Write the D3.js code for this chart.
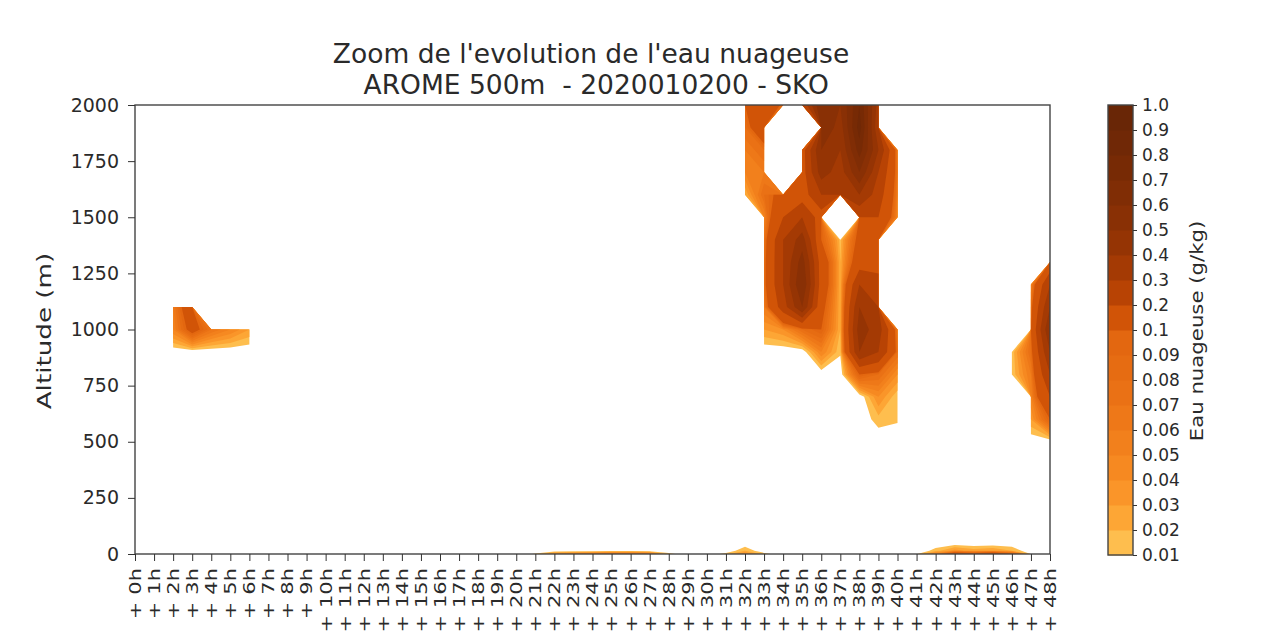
<!DOCTYPE html>
<html>
<head>
<meta charset="utf-8">
<script src="https://cdn.jsdelivr.net/npm/d3@7"></script>
<style>
body { margin: 0; background: #fff; }
text { font-family: "DejaVu Sans", sans-serif; fill: #2a2a2a; }
</style>
</head>
<body>
<div id="chart"></div>
<script>
const _ = null; // no data (masked point)

// forecast steps +0h ... +48h
const hours = d3.range(0, 49);
// model levels used for the grid (m)
const altitudes = [0, 15, 50, 100, 200, 300, 400, 500, 600, 700, 800, 900, 1000,
                   1100, 1200, 1300, 1400, 1500, 1600, 1700, 1800, 1900, 2000];
const altTicks = [0, 250, 500, 750, 1000, 1250, 1500, 1750, 2000];
const levels = [0.01, 0.02, 0.03, 0.04, 0.05, 0.06, 0.07, 0.08, 0.09,
                0.1, 0.2, 0.3, 0.4, 0.5, 0.6, 0.7, 0.8, 0.9, 1.0];
const levelLabels = ['0.01', '0.02', '0.03', '0.04', '0.05', '0.06', '0.07', '0.08', '0.09',
                     '0.1', '0.2', '0.3', '0.4', '0.5', '0.6', '0.7', '0.8', '0.9', '1.0'];

// cloud water (g/kg), one row per altitude (bottom -> top), one column per hour
const cloudWater = [
  // 0 m
  [0,0,0,0,0,0,0,0,0,0, 0,0,0,0,0,0,0,0,0,0, 0,.012,.04,.05,.06,.07,.07,.06,.015,0, 0,.015,.04,.015,0,0,0,0,0,0, 0,.008,.05,.15,.12,.15,.1,.008,0],
  // 15 m
  [0,0,0,0,0,0,0,0,0,0, 0,0,0,0,0,0,0,0,0,0, 0,0,0,0,0,0,0,0,0,0, 0,0,.02,0,0,0,0,0,0,0, 0,0,.015,.035,.025,.03,.02,0,0],
  // 50 m
  [0,0,0,0,0,0,0,0,0,0, 0,0,0,0,0,0,0,0,0,0, 0,0,0,0,0,0,0,0,0,0, 0,0,0,0,0,0,0,0,0,0, 0,0,0,0,0,0,0,0,0],
  // 100 m
  [_,_,_,_,_,_,_,_,_,_, _,_,_,_,_,_,_,_,_,_, _,_,_,_,_,_,_,_,_,_, _,_,_,_,_,_,_,_,_,_, _,_,_,_,_,_,_,_,_],
  // 200 m
  [_,_,_,_,_,_,_,_,_,_, _,_,_,_,_,_,_,_,_,_, _,_,_,_,_,_,_,_,_,_, _,_,_,_,_,_,_,_,_,_, _,_,_,_,_,_,_,_,_],
  // 300 m
  [_,_,_,_,_,_,_,_,_,_, _,_,_,_,_,_,_,_,_,_, _,_,_,_,_,_,_,_,_,_, _,_,_,_,_,_,_,_,_,_, _,_,_,_,_,_,_,_,_],
  // 400 m
  [_,_,_,_,_,_,_,_,_,_, _,_,_,_,_,_,_,_,_,_, _,_,_,_,_,_,_,_,_,_, _,_,_,_,_,_,_,_,_,_, _,_,_,_,_,_,_,_,_],
  // 500 m
  [_,_,_,_,_,_,_,_,_,_, _,_,_,_,_,_,_,_,_,_, _,_,_,_,_,_,_,_,_,_, _,_,_,_,_,_,_,_,_,0, 0,_,_,_,_,_,_,0,0],
  // 600 m
  [_,_,_,_,_,_,_,_,_,_, _,_,_,_,_,_,_,_,_,_, _,_,_,_,_,_,_,_,_,_, _,_,_,_,_,_,_,_,0,.016, .012,_,_,_,_,_,_,.03,.1],
  // 700 m
  [_,_,_,_,_,_,_,_,_,_, _,_,_,_,_,_,_,_,_,_, _,_,_,_,_,_,_,_,_,_, _,_,_,_,_,_,_,_,0,.04, .012,_,_,_,_,_,_,.05,.2],
  // 800 m
  [_,_,_,_,_,_,_,_,_,_, _,_,_,_,_,_,_,_,_,_, _,_,_,_,_,_,_,_,_,_, _,_,_,_,_,_,0,0,.1,.08, .04,_,_,_,_,_,.011,.06,.3],
  // 900 m
  [_,_,0,0,0,0,0,_,_,_, _,_,_,_,_,_,_,_,_,_, _,_,_,_,_,_,_,_,_,_, _,_,_,0,0,0,.05,.012,.4,.3, .08,_,_,_,_,_,.012,.08,.4],
  // 1000 m
  [_,_,.05,.12,.07,.05,.03,_,_,_, _,_,_,_,_,_,_,_,_,_, _,_,_,_,_,_,_,_,_,_, _,_,_,.03,.04,.08,.1,.02,.45,.35, .06,_,_,_,_,_,_,.1,.5],
  // 1100 m
  [_,_,.06,.15,_,_,_,_,_,_, _,_,_,_,_,_,_,_,_,_, _,_,_,_,_,_,_,_,_,_, _,_,_,.06,.25,.5,.12,.02,.4,.3, _,_,_,_,_,_,_,.08,.4],
  // 1200 m
  [_,_,_,_,_,_,_,_,_,_, _,_,_,_,_,_,_,_,_,_, _,_,_,_,_,_,_,_,_,_, _,_,_,.08,.3,.6,.15,.02,.3,.25, _,_,_,_,_,_,_,.05,.3],
  // 1300 m
  [_,_,_,_,_,_,_,_,_,_, _,_,_,_,_,_,_,_,_,_, _,_,_,_,_,_,_,_,_,_, _,_,_,.08,.3,.55,.15,.02,.15,.15, _,_,_,_,_,_,_,_,.12],
  // 1400 m
  [_,_,_,_,_,_,_,_,_,_, _,_,_,_,_,_,_,_,_,_, _,_,_,_,_,_,_,_,_,_, _,_,_,.07,.3,.45,.1,.015,.12,.12, _,_,_,_,_,_,_,_,_],
  // 1500 m
  [_,_,_,_,_,_,_,_,_,_, _,_,_,_,_,_,_,_,_,_, _,_,_,_,_,_,_,_,_,_, _,_,_,.05,.2,.3,.15,_,.2,.2, .05,_,_,_,_,_,_,_,_],
  // 1600 m
  [_,_,_,_,_,_,_,_,_,_, _,_,_,_,_,_,_,_,_,_, _,_,_,_,_,_,_,_,_,_, _,_,.02,.08,.12,.15,.3,.3,.4,.25, .06,_,_,_,_,_,_,_,_],
  // 1700 m
  [_,_,_,_,_,_,_,_,_,_, _,_,_,_,_,_,_,_,_,_, _,_,_,_,_,_,_,_,_,_, _,_,.05,.06,_,.15,.45,.35,.6,.3, .07,_,_,_,_,_,_,_,_],
  // 1800 m
  [_,_,_,_,_,_,_,_,_,_, _,_,_,_,_,_,_,_,_,_, _,_,_,_,_,_,_,_,_,_, _,_,.06,.08,_,.15,.5,.4,.75,.4, .06,_,_,_,_,_,_,_,_],
  // 1900 m
  [_,_,_,_,_,_,_,_,_,_, _,_,_,_,_,_,_,_,_,_, _,_,_,_,_,_,_,_,_,_, _,_,.08,.15,_,_,.6,.45,.85,.3, _,_,_,_,_,_,_,_,_],
  // 2000 m
  [_,_,_,_,_,_,_,_,_,_, _,_,_,_,_,_,_,_,_,_, _,_,_,_,_,_,_,_,_,_, _,_,.1,.2,.08,.2,.6,.5,.8,.35, _,_,_,_,_,_,_,_,_]
];

const width = 1274, height = 643;
const plot = {left: 135, right: 1050, top: 105, bottom: 554};
const cbar = {left: 1108, right: 1133, top: 105, bottom: 555};

var svg = d3.select('#chart')
  .append('svg')
  .attr('width', width)
  .attr('height', height);

var x = d3.scaleLinear().domain([0, 48]).range([plot.left, plot.right]);
var y = d3.scaleLinear().domain([0, 2000]).range([plot.bottom, plot.top]);
// grid row index -> altitude
var rowToAlt = d3.scaleLinear().domain(d3.range(altitudes.length)).range(altitudes);

// colour of each band, YlOrBr read on a log scale of the band middle
function bandColor(i) {
  var mid = (levels[i] + levels[i + 1]) / 2;
  var t = 0.33 + 0.67 * (Math.log10(mid) + 2) / 2;
  return d3.interpolateYlOrBr(t);
}

// filled contours
var contours = d3.contours()
  .size([hours.length, altitudes.length])
  .thresholds(levels)(cloudWater.flat());

// d3.contours puts grid value i at i + 0.5
var path = d3.geoPath(d3.geoTransform({
  point: function(px, py) { this.stream.point(x(px - 0.5), y(rowToAlt(py - 0.5))); }
}));

svg.append('clipPath').attr('id', 'clip')
  .append('rect')
  .attr('x', plot.left).attr('y', plot.top)
  .attr('width', plot.right - plot.left).attr('height', plot.bottom - plot.top);

svg.append('g')
  .attr('clip-path', 'url(#clip)')
  .selectAll('path')
  .data(contours.slice(0, levels.length - 1))
  .enter()
  .append('path')
  .attr('d', path)
  .attr('fill', (d, i) => bandColor(i));

// frame
svg.append('rect')
  .attr('x', plot.left).attr('y', plot.top)
  .attr('width', plot.right - plot.left).attr('height', plot.bottom - plot.top)
  .attr('fill', 'none').attr('stroke', '#444').attr('stroke-width', 1.4);

// y axis
var yAxis = svg.append('g')
  .attr('transform', 'translate(' + plot.left + ',0)')
  .attr('color', '#333')
  .call(d3.axisLeft(y).tickValues(altTicks).tickSize(7).tickPadding(9).tickFormat(d3.format('d')));
yAxis.select('.domain').remove();
yAxis.selectAll('text').attr('font-size', 19);

// x axis, labels "+Nh" rotated
var xAxis = svg.append('g')
  .attr('transform', 'translate(0,' + plot.bottom + ')')
  .attr('color', '#333')
  .call(d3.axisBottom(x).tickValues(hours).tickSize(7));
xAxis.select('.domain').remove();
xAxis.selectAll('.tick text')
  .attr('y', null)
  .attr('dy', '0.36em')
  .attr('font-size', 15)
  .attr('text-anchor', 'end')
  .attr('transform', 'translate(0,14) rotate(-90) scale(1.4,1)')
  .text(null)
  .each(function(h) {
    var t = d3.select(this);
    t.append('tspan').text('+');
    t.append('tspan').attr('dx', 5).text(h + 'h');
  });

svg.append('text')
  .attr('transform', 'translate(51,331) rotate(-90) scale(1.31,1)')
  .attr('text-anchor', 'middle')
  .attr('font-size', 20)
  .text('Altitude (m)');

// title
svg.append('text')
  .attr('x', 591).attr('y', 63)
  .attr('text-anchor', 'middle')
  .attr('font-size', 26.5)
  .style('white-space', 'pre')
  .text("Zoom de l'evolution de l'eau nuageuse");
svg.append('text')
  .attr('x', 592).attr('y', 94)
  .attr('text-anchor', 'middle')
  .attr('font-size', 26.5)
  .style('white-space', 'pre')
  .text(' AROME 500m  - 2020010200 - SKO');

// colorbar
var cb = d3.scaleLinear().domain([0, levels.length - 1]).range([cbar.bottom, cbar.top]);
svg.append('g')
  .selectAll('rect')
  .data(d3.range(levels.length - 1))
  .enter()
  .append('rect')
  .attr('x', cbar.left)
  .attr('y', i => cb(i + 1))
  .attr('width', cbar.right - cbar.left)
  .attr('height', i => cb(i) - cb(i + 1) + 0.5)
  .attr('fill', i => bandColor(i));
svg.append('rect')
  .attr('x', cbar.left).attr('y', cbar.top)
  .attr('width', cbar.right - cbar.left).attr('height', cbar.bottom - cbar.top)
  .attr('fill', 'none').attr('stroke', '#444').attr('stroke-width', 1.4);

var cbAxis = svg.append('g')
  .attr('transform', 'translate(' + cbar.right + ',0)')
  .attr('color', '#333')
  .call(d3.axisRight(cb).tickValues(d3.range(levels.length)).tickSize(4).tickPadding(5)
    .tickFormat(i => levelLabels[i]));
cbAxis.select('.domain').remove();
cbAxis.selectAll('text').attr('font-size', 17);

svg.append('text')
  .attr('transform', 'translate(1203,331) rotate(-90) scale(1.25,1)')
  .attr('text-anchor', 'middle')
  .attr('font-size', 17)
  .text('Eau nuageuse (g/kg)');
</script>
</body>
</html>
